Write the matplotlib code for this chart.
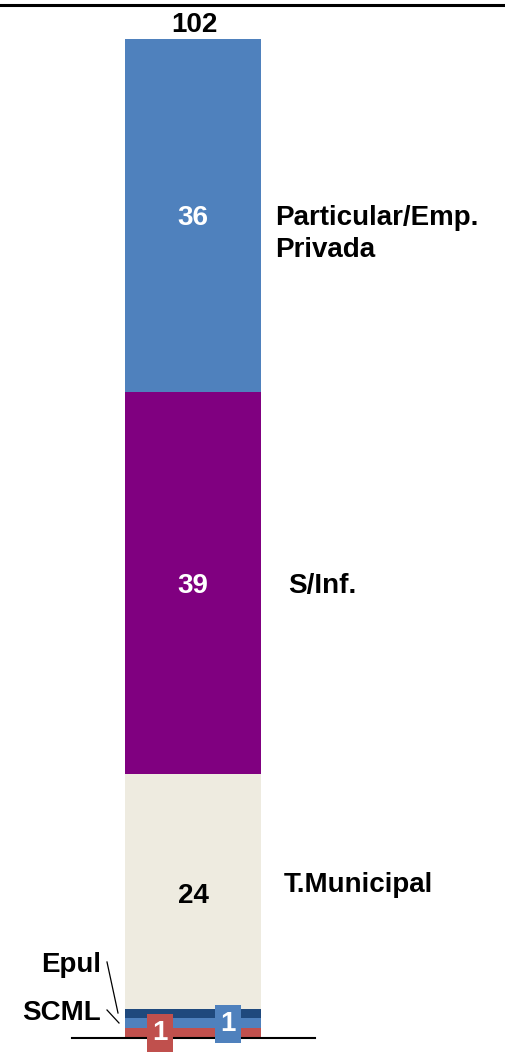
import matplotlib
matplotlib.use("Agg")
import matplotlib.pyplot as plt

plt.rcParams['font.family'] = ['Liberation Sans', 'DejaVu Sans']

# Data (stacked from bottom)
segments = ["Outro", "SCML", "Epul", "T.Municipal", "S/Inf.", "Particular/Emp.\nPrivada"]
values = [1, 1, 1, 24, 39, 36]
colors = ["#c0504d", "#4f81bd", "#1f497d", "#eeebe0", "#800080", "#4f81bd"]
total = sum(values)

W, H = 506, 1052
fig = plt.figure(figsize=(W / 100, H / 100), dpi=100)
ax = fig.add_axes([0, 0, 1, 1])
ax.axis('off')

scale = 999 / 102.0  # px per unit
base_px = 14
ax.set_xlim(0, W)
ax.set_ylim(-base_px / scale, (H - base_px) / scale)

xc, bw = 193, 136
bottom = 0
for name, v, c in zip(segments, values, colors):
    ax.bar(xc, v, width=bw, bottom=bottom, color=c, linewidth=0)
    bottom += v

def py(p):  # pixel-from-top -> data y (with small text offset)
    return (H - p - base_px) / scale

d = 3  # vertical text offset
fs = 20
# Inside labels
ax.text(xc, py(215 + d), str(values[5]), ha='center', va='center', color='white', fontsize=fs, fontweight='bold')
ax.text(xc, py(583 + d), str(values[4]), ha='center', va='center', color='white', fontsize=fs, fontweight='bold')
ax.text(xc, py(893 + d), str(values[3]), ha='center', va='center', color='black', fontsize=fs, fontweight='bold')
ax.text(xc + 1, py(22 + d), str(total), ha='center', va='center', color='black', fontsize=fs, fontweight='bold')

# Right-side category labels
ax.text(275, py(231 + d), segments[5], ha='left', va='center', fontsize=fs, fontweight='bold', linespacing=1.3)
ax.text(288, py(583 + d), segments[4], ha='left', va='center', fontsize=fs, fontweight='bold')
ax.text(284, py(882 + d), segments[3], ha='left', va='center', fontsize=fs, fontweight='bold')

# Left labels with leader lines
ax.text(101, py(962 + d), segments[2], ha='right', va='center', fontsize=fs, fontweight='bold')
ax.plot([107, 118], [py(962), py(1013)], color='black', lw=0.9)
ax.text(101, py(1010 + d), segments[1], ha='right', va='center', fontsize=fs, fontweight='bold')
ax.plot([107, 119], [py(1010), py(1023)], color='black', lw=0.9)

# Small value boxes
ax.text(160, py(1033), str(values[0]), ha='center', va='center', color='white', fontsize=fs, fontweight='bold',
        bbox=dict(boxstyle='square,pad=0.2', fc=colors[0], ec='none'), zorder=5)
ax.text(228, py(1024), str(values[1]), ha='center', va='center', color='white', fontsize=fs, fontweight='bold',
        bbox=dict(boxstyle='square,pad=0.2', fc=colors[1], ec='none'), zorder=5)

# Baseline and top rule
ax.plot([72, 315], [0, 0], color='black', lw=1.5, zorder=4)
ax.plot([0, W], [py(4.5), py(4.5)], color='black', lw=2.2)

fig.savefig("out.png", dpi=100)
